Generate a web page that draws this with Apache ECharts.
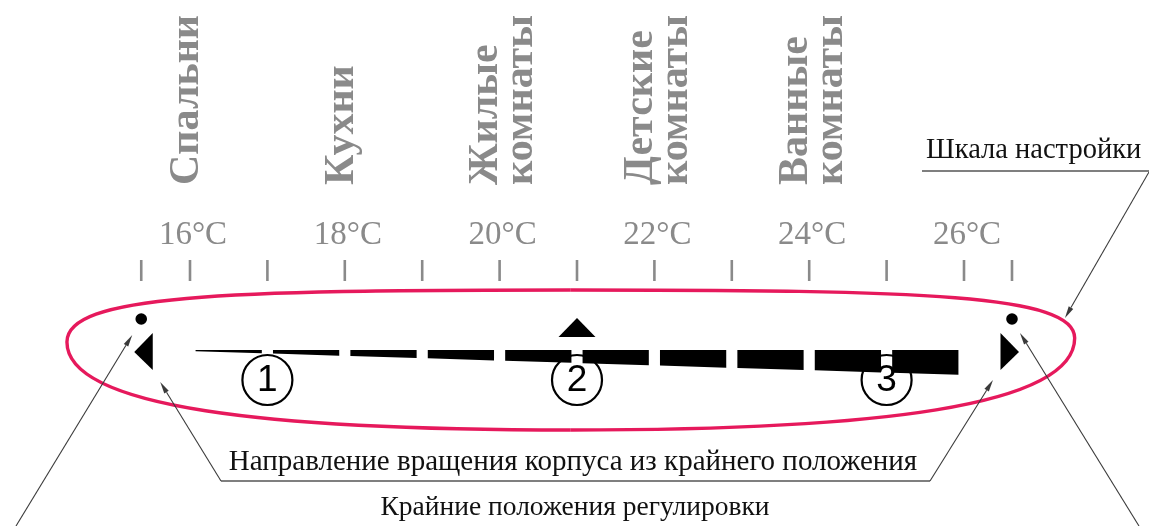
<!DOCTYPE html>
<html>
<head>
<meta charset="utf-8">
<script src="https://cdn.jsdelivr.net/npm/echarts@6/dist/echarts.min.js"></script>
<style>
html,body{margin:0;padding:0;background:#ffffff;}
#c{width:1149px;height:526px;}
</style>
</head>
<body>
<div id="c"></div>
<script>
// ---- data ----
const roomLabels = ['Спальни', 'Кухни', 'Жилые\nкомнаты', 'Детские\nкомнаты', 'Ванные\nкомнаты'];
const roomTemps = [16, 18, 20, 22, 24];
const scaleLabels = ['16°C', '18°C', '20°C', '22°C', '24°C', '26°C'];
const scaleLabelTemps = [16, 18, 20, 22, 24, 26];
const tickTemps = [15.37, 16, 17, 18, 19, 20, 21, 22, 23, 24, 25, 26, 26.62];
const segmentBounds = [16, 17, 18, 19, 20, 21, 22, 23, 24, 25, 26];
const markerNames = ['1', '2', '3'];
const markerTemps = [17, 21, 25];
const pointerTemps = [21];
const limitTemps = [15.37, 26.62];
const textScale = 'Шкала настройки';
const textDirection = 'Направление вращения корпуса из крайнего положения';
const textLimits = 'Крайние положения регулировки';

// ---- layout / style ----
const PX_PER_DEG = 77.4;
const X_MIN = 16 - 190 / PX_PER_DEG;
const X_MAX = X_MIN + 1149 / PX_PER_DEG;
const GRAY = '#8a8a8a';
const PINK = '#e6195c';
const INK = '#111111';
const LEAD = '#3a3a3a';
const SERIF = 'Liberation Serif';

function arrowLine(x1, y1, x2, y2) {
  const dx = x2 - x1, dy = y2 - y1, L = Math.hypot(dx, dy);
  const ux = dx / L, uy = dy / L, len = 12, w = 2.6;
  const bx = x2 - ux * len, by = y2 - uy * len;
  return [
    {type: 'line', shape: {x1: x1, y1: y1, x2: bx, y2: by}, style: {stroke: LEAD, lineWidth: 1.1}},
    {type: 'polygon', shape: {points: [[x2, y2], [bx - uy * w, by + ux * w], [bx + uy * w, by - ux * w]]}, style: {fill: LEAD}}
  ];
}
function thick(t) { return 1 + (t - 16) * 2.4; }

const chart = echarts.init(document.getElementById('c'), null, {renderer: 'canvas'});
const base = {type: 'custom', coordinateSystem: 'cartesian2d', clip: false, silent: true, animation: false};

chart.setOption({
  backgroundColor: '#ffffff',
  animation: false,
  grid: {left: 0, right: 0, top: 0, bottom: 0, containLabel: false},
  xAxis: {type: 'value', min: X_MIN, max: X_MAX, show: false},
  yAxis: {type: 'value', min: 0, max: 526, inverse: true, show: false},
  series: [
    // ellipse (scale outline) and annotations
    Object.assign({}, base, {
      data: [[0, 0]],
      renderItem: function (params, api) {
        const c = (t, y) => api.coord([t, y]);
        const Lp = c(14.41, 342), T = c(20.92, 290), Rp = c(27.43, 338), B = c(20.92, 430);
        const rxL = T[0] - Lp[0], rxR = Rp[0] - T[0];
        const es = {stroke: PINK, lineWidth: 3.4, fill: null};
        const children = [
          {type: 'bezierCurve', shape: {x1: Lp[0], y1: Lp[1], cpx1: Lp[0], cpy1: Lp[1] - 0.9 * (Lp[1] - T[1]), cpx2: T[0] - 0.7 * rxL, cpy2: T[1], x2: T[0], y2: T[1]}, style: es},
          {type: 'bezierCurve', shape: {x1: T[0], y1: T[1], cpx1: T[0] + 0.7 * rxR, cpy1: T[1], cpx2: Rp[0], cpy2: Rp[1] - 0.9 * (Rp[1] - T[1]), x2: Rp[0], y2: Rp[1]}, style: es},
          {type: 'bezierCurve', shape: {x1: Rp[0], y1: Rp[1], cpx1: Rp[0], cpy1: Rp[1] + 0.75 * (B[1] - Rp[1]), cpx2: B[0] + 0.6 * rxR, cpy2: B[1], x2: B[0], y2: B[1]}, style: es},
          {type: 'bezierCurve', shape: {x1: B[0], y1: B[1], cpx1: B[0] - 0.6 * rxL, cpy1: B[1], cpx2: Lp[0], cpy2: Lp[1] + 0.75 * (B[1] - Lp[1]), x2: Lp[0], y2: Lp[1]}, style: es}
        ];
        const dl = c(limitTemps[0], 319), dr = c(limitTemps[1], 319);
        // "Шкала настройки"
        children.push({type: 'text', x: 926, y: 151, style: {text: textScale, fill: INK, fontFamily: SERIF, fontSize: 28.5, align: 'left', verticalAlign: 'middle'}});
        children.push({type: 'line', shape: {x1: 922, y1: 171, x2: 1149, y2: 171}, style: {stroke: '#555', lineWidth: 1.4}});
        children.push.apply(children, arrowLine(1149, 172, 1065, 318));
        // direction
        children.push({type: 'text', x: 573, y: 462, style: {text: textDirection, fill: INK, fontFamily: SERIF, fontSize: 29, align: 'center', verticalAlign: 'middle'}});
        children.push({type: 'line', shape: {x1: 221, y1: 481, x2: 930, y2: 481}, style: {stroke: '#555', lineWidth: 1.4}});
        children.push.apply(children, arrowLine(221, 481, dl[0] + 19, 382));
        children.push.apply(children, arrowLine(930, 481, dr[0] - 19, 380));
        // limits
        children.push({type: 'text', x: 575, y: 508, style: {text: textLimits, fill: INK, fontFamily: SERIF, fontSize: 27.5, align: 'center', verticalAlign: 'middle'}});
        children.push.apply(children, arrowLine(16, 526, dl[0] - 9, 335));
        children.push.apply(children, arrowLine(1139, 526, dr[0] + 8, 333));
        return {type: 'group', children: children};
      }
    }),
    // room labels
    Object.assign({}, base, {
      data: roomTemps.map((t, i) => [t, i]),
      renderItem: function (params, api) {
        const p = api.coord([api.value(0), 185]);
        const label = roomLabels[api.value(1)];
        const two = label.indexOf('\n') >= 0;
        return {type: 'text', x: p[0] + (two ? 4 : -3), y: p[1], rotation: Math.PI / 2,
          style: {text: label, fill: GRAY, fontFamily: SERIF, fontWeight: 'bold', fontSize: 42, lineHeight: 35, align: 'left', verticalAlign: 'middle'}};
      }
    }),
    // scale labels
    Object.assign({}, base, {
      data: scaleLabelTemps.map((t, i) => [t, i]),
      renderItem: function (params, api) {
        const p = api.coord([api.value(0), 235]);
        return {type: 'text', x: p[0] + 3, y: p[1],
          style: {text: scaleLabels[api.value(1)], fill: GRAY, fontFamily: SERIF, fontSize: 33, align: 'center', verticalAlign: 'middle'}};
      }
    }),
    // ticks
    Object.assign({}, base, {
      data: tickTemps.map(t => [t]),
      renderItem: function (params, api) {
        const a = api.coord([api.value(0), 260]), b = api.coord([api.value(0), 281]);
        return {type: 'line', shape: {x1: a[0], y1: a[1], x2: b[0], y2: b[1]}, style: {stroke: GRAY, lineWidth: 2.6}};
      }
    }),
    // wedge segments
    Object.assign({}, base, {
      data: segmentBounds.slice(0, -1).map((t, i) => [t, segmentBounds[i + 1]]),
      renderItem: function (params, api) {
        const a = api.value(0) + 0.072, b = api.value(1) - 0.072;
        const p1 = api.coord([a, 350]), p2 = api.coord([b, 350]);
        const p3 = api.coord([b, 350 + thick(b)]), p4 = api.coord([a, 350 + thick(a)]);
        return {type: 'polygon', shape: {points: [p1, p2, p3, p4]}, style: {fill: '#000'}};
      }
    }),
    // numbered markers
    Object.assign({}, base, {
      data: markerTemps.map((t, i) => [t, i]),
      renderItem: function (params, api) {
        const p = api.coord([api.value(0), 380]);
        return {type: 'group', children: [
          {type: 'circle', shape: {cx: p[0], cy: p[1], r: 25}, style: {fill: null, stroke: '#000', lineWidth: 2.2}},
          {type: 'text', x: p[0], y: p[1] + 1, style: {text: markerNames[api.value(1)], fill: '#000', fontFamily: 'Liberation Sans', fontSize: 37, align: 'center', verticalAlign: 'middle'}}
        ]};
      }
    }),
    // pointer triangle
    Object.assign({}, base, {
      data: pointerTemps.map(t => [t]),
      renderItem: function (params, api) {
        const p = api.coord([api.value(0), 318]);
        return {type: 'polygon', shape: {points: [[p[0], p[1]], [p[0] - 18.5, p[1] + 19], [p[0] + 18.5, p[1] + 19]]}, style: {fill: '#000'}};
      }
    }),
    // limit positions (dot + direction triangle)
    Object.assign({}, base, {
      data: limitTemps.map((t, i) => [t, i]),
      renderItem: function (params, api) {
        const p = api.coord([api.value(0), 319]);
        const dir = api.value(1) === 0 ? -1 : 1;
        const bx = p[0] - dir * 11.5, ax = p[0] + dir * 7;
        return {type: 'group', children: [
          {type: 'circle', shape: {cx: p[0], cy: p[1], r: 5.8}, style: {fill: '#000'}},
          {type: 'polygon', shape: {points: [[ax, 352], [bx, 333], [bx, 370]]}, style: {fill: '#000'}}
        ]};
      }
    })
  ]
});
</script>
</body>
</html>
